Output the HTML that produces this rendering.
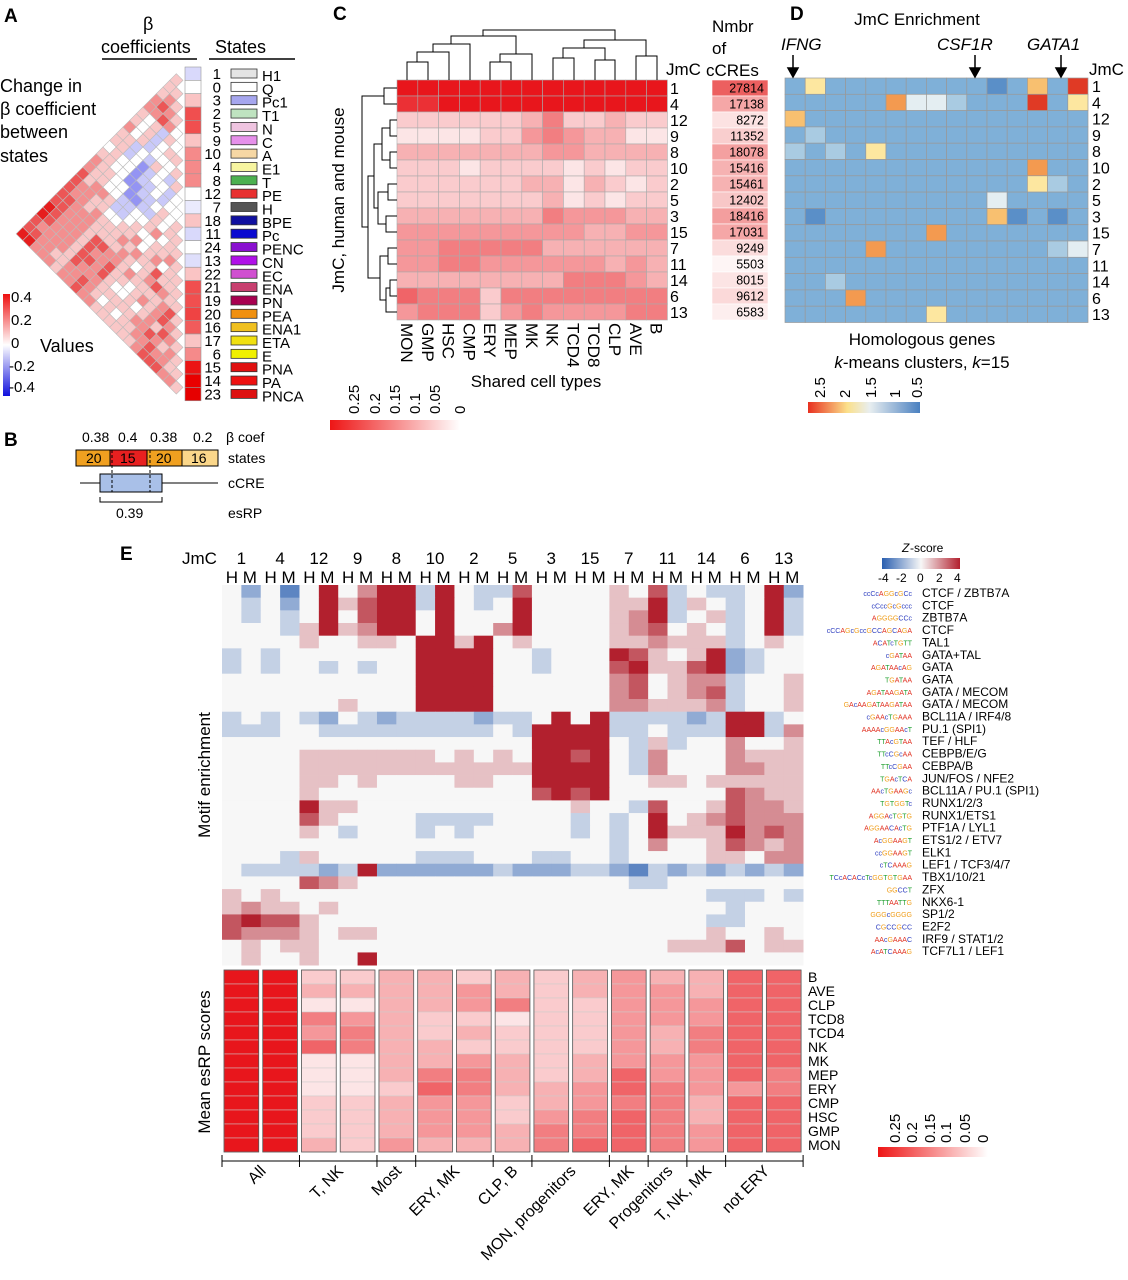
<!DOCTYPE html>
<html><head><meta charset="utf-8"><style>
html,body{margin:0;padding:0;background:#fff}
svg{display:block;font-family:"Liberation Sans",Arial,sans-serif}
</style></head><body>
<svg id="fig" width="1128" height="1280" viewBox="0 0 1128 1280" xmlns="http://www.w3.org/2000/svg">
<g font-weight="bold" font-size="19">
<text x="4" y="22">A</text><text x="4" y="446">B</text><text x="333" y="20">C</text><text x="790" y="20">D</text><text x="120" y="560">E</text>
</g>
<g font-size="18">
<text x="143" y="30">β</text>
<text x="101" y="53">coefficients</text>
<line x1="102" y1="59" x2="197" y2="59" stroke="#000" stroke-width="1.5"/>
<text x="215" y="53">States</text>
<line x1="209" y1="59" x2="295" y2="59" stroke="#000" stroke-width="1.5"/>
<text x="0" y="92">Change in</text>
<text x="0" y="115">β coefficient</text>
<text x="0" y="138">between</text>
<text x="0" y="162">states</text>
<text x="40" y="352">Values</text>
</g>
<defs>
<linearGradient id="gA" x1="0" y1="0" x2="0" y2="1"><stop offset="0" stop-color="#ee1010"/><stop offset="0.5" stop-color="#fff"/><stop offset="1" stop-color="#1010dd"/></linearGradient>
<linearGradient id="gC" x1="0" y1="0" x2="1" y2="0"><stop offset="0" stop-color="#ee1515"/><stop offset="1" stop-color="#fff"/></linearGradient>
<linearGradient id="gD" x1="0" y1="0" x2="1" y2="0"><stop offset="0" stop-color="#e83020"/><stop offset="0.35" stop-color="#fbe08a"/><stop offset="0.55" stop-color="#e8eef0"/><stop offset="1" stop-color="#4a80c0"/></linearGradient>
<linearGradient id="gE" x1="0" y1="0" x2="1" y2="0"><stop offset="0" stop-color="#2a5fb0"/><stop offset="0.5" stop-color="#f7f7f7"/><stop offset="1" stop-color="#b2202e"/></linearGradient>
</defs>
<rect x="3" y="294" width="7" height="102" fill="url(#gA)"/>
<g font-size="15">
<text x="11" y="302">0.4</text><text x="11" y="325">0.2</text><text x="11" y="348">0</text><text x="9" y="371">-0.2</text><text x="9" y="392">-0.4</text>
</g>
<g id="panelA"></g>
<g id="statesList"></g>
<g font-size="14">
<text x="82" y="442">0.38</text><text x="118" y="442">0.4</text><text x="150" y="442">0.38</text><text x="193" y="442">0.2</text>
<text x="226" y="442">β coef</text>
<rect x="76" y="450" width="34" height="16" fill="#f0a020" stroke="#000"/><text x="86" y="463">20</text>
<rect x="110" y="450" width="37" height="16" fill="#e82020" stroke="#000"/><text x="120" y="463">15</text>
<rect x="147" y="450" width="35" height="16" fill="#f0a020" stroke="#000"/><text x="156" y="463">20</text>
<rect x="182" y="450" width="36" height="16" fill="#fbd78a" stroke="#000"/><text x="191" y="463">16</text>
<text x="228" y="463">states</text>
<line x1="80" y1="483" x2="218" y2="483" stroke="#000"/>
<rect x="100" y="474" width="62" height="18" fill="#a9c0e8" stroke="#000"/>
<line x1="112" y1="450" x2="112" y2="492" stroke="#000" stroke-dasharray="3,2"/>
<line x1="150" y1="450" x2="150" y2="492" stroke="#000" stroke-dasharray="3,2"/>
<text x="228" y="488">cCRE</text>
<path d="M100 497 V502 H162 V497" fill="none" stroke="#000"/>
<text x="116" y="518">0.39</text><text x="228" y="518">esRP</text>
</g>
<g id="panelC"></g>
<g font-size="17">
<text x="666" y="75">JmC</text>
<text x="712" y="32">Nmbr</text><text x="712" y="54">of</text><text x="706" y="76">cCREs</text>
<text transform="translate(344,200) rotate(-90)" text-anchor="middle">JmC, human and mouse</text>
<text x="536" y="387" text-anchor="middle">Shared cell types</text>
</g>
<g fill="none" stroke="#000" stroke-width="1">
<path d="M407 80 V62 H428 V80 M417 62 V52 H449 V80 M433 52 V44 H470 V80 M490 80 V62 H511 V80 M500 62 V54 H532 V80 M451 44 V36 H516 V54 M553 80 V58 H574 V80 M595 80 V60 H615 V80 M563 58 V48 H605 V60 M636 80 V56 H657 V80 M584 48 V40 H646 V56 M483 36 V30 H615 V40"/>
<path d="M397 88 H384 V104 H397 M397 120 H390 V136 H397 M397 152 H390 V168 H397 M390 128 H382 V160 H390 M397 184 H388 V200 H397 M397 216 H386 V232 H397 M388 192 H378 V224 H386 M382 144 H374 V208 H378 M397 248 H388 V264 H397 M397 280 H390 V296 H397 M390 288 H386 V312 H397 M388 256 H380 V300 H386 M374 176 H368 V278 H380 M384 96 H362 V227 H368"/>
</g>
<rect x="330" y="420" width="130" height="10" fill="url(#gC)"/>
<g font-size="15">
<text transform="translate(359,414) rotate(-90)">0.25</text>
<text transform="translate(380,414) rotate(-90)">0.2</text>
<text transform="translate(400,414) rotate(-90)">0.15</text>
<text transform="translate(420,414) rotate(-90)">0.1</text>
<text transform="translate(440,414) rotate(-90)">0.05</text>
<text transform="translate(465,414) rotate(-90)">0</text>
</g>
<g id="panelD"></g>
<g font-size="17">
<text x="917" y="25" text-anchor="middle">JmC Enrichment</text>
<text x="781" y="50" font-style="italic">IFNG</text>
<text x="937" y="50" font-style="italic">CSF1R</text>
<text x="1027" y="50" font-style="italic">GATA1</text>
<text x="1089" y="75">JmC</text>
<text x="922" y="345" text-anchor="middle">Homologous genes</text>
<text x="922" y="368" text-anchor="middle"><tspan font-style="italic">k</tspan>-means clusters, <tspan font-style="italic">k</tspan>=15</text>
</g>
<g stroke="#000" stroke-width="1.5" fill="#000">
<line x1="793" y1="55" x2="793" y2="72"/><path d="M788 68 L793 77 L798 68Z"/>
<line x1="975" y1="55" x2="975" y2="72"/><path d="M970 68 L975 77 L980 68Z"/>
<line x1="1061" y1="55" x2="1061" y2="72"/><path d="M1056 68 L1061 77 L1066 68Z"/>
</g>
<rect x="808" y="402" width="112" height="11" fill="url(#gD)"/>
<g font-size="15">
<text transform="translate(825,398) rotate(-90)">2.5</text>
<text transform="translate(850,398) rotate(-90)">2</text>
<text transform="translate(876,398) rotate(-90)">1.5</text>
<text transform="translate(900,398) rotate(-90)">1</text>
<text transform="translate(922,398) rotate(-90)">0.5</text>
</g>
<g font-size="17">
<text x="182" y="564">JmC</text>
<text transform="translate(210,775) rotate(-90)" text-anchor="middle">Motif enrichment</text>
<text transform="translate(210,1062) rotate(-90)" text-anchor="middle">Mean esRP scores</text>
<text x="902" y="552" font-size="12" font-style="italic">Z</text><text x="910" y="552" font-size="12">-score</text>
</g>
<rect x="882" y="558" width="78" height="11" fill="url(#gE)"/>
<g font-size="12">
<text x="878" y="582">-4</text><text x="896" y="582">-2</text><text x="917" y="582">0</text><text x="936" y="582">2</text><text x="954" y="582">4</text>
</g>
<g id="panelE"></g>
<g id="panelE2"></g>
<g id="motifs"></g>
<rect x="878" y="1147" width="110" height="10" fill="url(#gC)"/>
<g font-size="15">
<text transform="translate(900,1143) rotate(-90)">0.25</text>
<text transform="translate(917,1143) rotate(-90)">0.2</text>
<text transform="translate(935,1143) rotate(-90)">0.15</text>
<text transform="translate(951,1143) rotate(-90)">0.1</text>
<text transform="translate(970,1143) rotate(-90)">0.05</text>
<text transform="translate(988,1143) rotate(-90)">0</text>
</g>
<g id="groupLabels"></g>
</svg>
<script>
const aStates=["1","0","3","2","5","9","10","4","8","12","7","18","11","24","13","22","21","19","20","16","17","6","15","14","23"];
const aNames=["H1","Q","Pc1","T1","N","C","A","E1","T","PE","H","BPE","Pc","PENC","CN","EC","ENA","PN","PEA","ENA1","ETA","E","PNA","PA","PNCA"];
const aSwatch=["#e4e4e4","#ffffff","#a6a6ee","#bfe3c0","#efc4e0","#e690ea","#f6d7a4","#f7f5a0","#4cb050","#e83030","#555555","#1010a0","#0a0ad0","#8a10d0","#b010e8","#d050d0","#c84070","#a80050","#f09010","#f0c020","#f0e010","#f0f000","#e01010","#ee1010","#dd1010"];
const aBeta=[3.3,4,5,7,7,5,6,6,6,4,3.6,5,3.3,4,3.4,5,7,7,7.2,6.8,5,6,8,8.5,9];
const aTri=["5","55","565","6765","66764","545354","5453455","64534445","553435435","5534234434","45442334344","554422334545","6554422335455","65544334456455","756653345445565","7665544556456455","76656555656557555","776665555654567655","7766657766565555675","87666576675545656765","876665776754454565765","7666657666555556676565","77665566765454556676655","886665667665555556777665"];

const cCols=["MON","GMP","HSC","CMP","ERY","MEP","MK","NK","TCD4","TCD8","CLP","AVE","B"];
const cRows=["1","4","12","9","8","10","2","5","3","15","7","11","14","6","13"];
const cVals=["9999999999999","8899999999999","2222223522322","1111224543311","3333333443333","2221222212122","2222223313212","2222222312122","3333333544433","4444444443344","4455555333333","4455444444343","3333333355543","6555255555555","4555245444455"];
const cCount=[27814,17138,8272,11352,18078,15416,15461,12402,18416,17031,9249,5503,8015,9612,6583];

const dRows=["1","4","12","9","8","10","2","5","3","15","7","11","14","6","13"];
const dVals=["363333333323739","333338554333936","733333333333333","343333333333333","434363333333333","333333333333833","333333333333643","333333333353333","323333333372323","333333383333333","333383333333345","333333333333333","334333333333333","333833333333333","333333363333333"];

const eGroups=["1","4","12","9","8","10","2","5","3","15","7","11","14","6","13"];
const eMotifs=["CTCF / ZBTB7A","CTCF","ZBTB7A","CTCF","TAL1","GATA+TAL","GATA","GATA","GATA / MECOM","GATA / MECOM","BCL11A / IRF4/8","PU.1 (SPI1)","TEF / HLF","CEBPB/E/G","CEBPA/B","JUN/FOS / NFE2","BCL11A / PU.1 (SPI1)","RUNX1/2/3","RUNX1/ETS1","PTF1A / LYL1","ETS1/2 / ETV7","ELK1","LEF1 / TCF3/4/7","TBX1/10/21","ZFX","NKX6-1","SP1/2","E2F2","IRF9 / STAT1/2","TCF7L1 / LEF1"];
const eLogos=["ccCcAGGcGCc","cCccGcGccc","AGGGGCCc","cCCAGcGccGCCAGCAGA","ACATcTGTT","cGATAA","AGATAAcAG","TGATAA","AGATAAGATA","GAcAAGATAAGATAA","cGAAcTGAAA","AAAAcGGAAcT","TTAcGTAA","TTcCGcAA","TTcCGAA","TGAcTCA","AAcTGAAGc","TGTGGTc","AGGAcTGTG","AGGAACAcTG","AcGGAAGT","ccGGAAGT","cTCAAAG","TCcACACcTcGGTGTGAA","GGCCT","TTTAATTG","GGGcGGGG","CGCCGCC","AAcGAAAC","AcATCAAAG"];
const eVals=["424148468838433744445473433482","434248578838434844445583543483","434348478848444844445683453483","444358568848446844445674543483","444454455488584544445565553454","343444444488884434448754582344","343443434488884434447855782344","444444444488884444446745663445","444444444488884444446745673445","444444544488884444446655563445","343432432333323348483333238834","333443333333334388883343338836","444444444444444488884353446445","444455555554545488784364446555","444455555555555588884364446655","444455454444554488884455455555","444454444444444478784444447655","444485544444444444544374457665","444475444433334444343484567666","444454344434344444343485558676","444444444444444444443464457656","444354444433344433443444455466","433332382222223222332132323232","444476544444444444444334444444","545444444444444444444444433343","565545444444444444444444443444","787754444444444444444444433444","766654554444444444444444454454","454554444444444444444445557455","454454484444444444444444444444"];

const esCells=["B","AVE","CLP","TCD8","TCD4","NK","MK","MEP","ERY","CMP","HSC","GMP","MON"];
const esVals=["9999999999999","9999999999999","2315461112223","2314551112222","3333333323334","3332233564443","2442324554443","3351223332233","2222222233455","3322223344556","4444444665666","3444334455555","3344554443344","6666666646666","6666666556666"];
const gLabels=["All","T, NK","Most","ERY, MK","CLP, B","MON, progenitors","ERY, MK","Progenitors","T, NK, MK","not ERY"];
const gSpans=[[0,1],[2,3],[4,4],[5,6],[7,7],[8,9],[10,10],[11,11],[12,12],[13,14]];

const NS="http://www.w3.org/2000/svg";
function mk(tag,parent,attrs){const e=document.createElementNS(NS,tag);for(const k in attrs)e.setAttribute(k,attrs[k]);parent.appendChild(e);return e;}
function mix(a,b,t){return "rgb("+a.map((v,i)=>Math.round(v+(b[i]-v)*t)).join(",")+")";}
function div(l,lo,mid,hi){const t=(l-4)/4;return t<0?mix(mid,lo,-t):mix(mid,hi,t);}
function redScale(v){return mix([255,255,255],[232,22,28],Math.max(0,Math.min(1,v)));}
const dColors={"2":"#5a8fc8","3":"#7fb0d8","4":"#a9cbe2","5":"#e4eef2","6":"#fde7a0","7":"#f8c070","8":"#f39a50","9":"#e03a25"};

const gA=document.getElementById("panelA");
const AX=183,AY0=67,AS=13.35;
aTri.forEach((row,ii)=>{const i=ii+1;[...row].forEach((ch,j)=>{
 const cy=AY0+((i+j)/2+0.5)*AS,cx=AX-(i-j)*AS/2,h=AS/2;
 const p=mk("path",gA,{d:`M${cx-h} ${cy} L${cx} ${cy-h} L${cx+h} ${cy} L${cx} ${cy+h}Z`,fill:div(+ch,[40,40,230],[255,255,255],[230,30,30]),stroke:"#bbb","stroke-width":0.6});
 
 
});});
const sl=document.getElementById("statesList");
aStates.forEach((s,i)=>{
 const y=AY0+i*AS;
 const r=mk("rect",sl,{x:185,y:y,width:16,height:AS,fill:div(aBeta[i],[40,40,230],[255,255,255],[235,20,20]),stroke:"#999","stroke-width":0.6});
 
 
 const t=mk("text",sl,{x:221,y:y+12,"font-size":15,"text-anchor":"end"});t.textContent=s;
 
 
 const sw=mk("rect",sl,{x:231,y:y+2,width:26,height:9,fill:aSwatch[i],stroke:"#333","stroke-width":0.8});
 
 
 const n=mk("text",sl,{x:262,y:y+14,"font-size":15});n.textContent=aNames[i];
 
 
});

const gCp=document.getElementById("panelC");
const CX=397,CY=80,CW=20.8,CH=16;
cVals.forEach((row,r)=>{[...row].forEach((ch,c)=>{
 const e=mk("rect",gCp,{x:CX+c*CW,y:CY+r*CH,width:CW,height:CH,fill:redScale(+ch/9),stroke:"#aaa","stroke-width":0.6});
 
 
});
 const t=mk("text",gCp,{x:670,y:CY+r*CH+14,"font-size":16});t.textContent=cRows[r];
 
 
 const n=mk("rect",gCp,{x:712,y:CY+r*CH,width:56,height:CH,fill:mix([255,255,255],[236,95,95],Math.max(0,(cCount[r]-4000)/23814)),stroke:"#fff","stroke-width":0.6});
 
 
 const nt=mk("text",gCp,{x:764,y:CY+r*CH+12.5,"font-size":12.5,"text-anchor":"end"});nt.textContent=cCount[r];
 
 
});
cCols.forEach((c,i)=>{
 const t=mk("text",gCp,{transform:`translate(${CX+i*CW+4},323) rotate(90)`,"font-size":17});t.textContent=c;
 
 
});

const gDp=document.getElementById("panelD");
const DX=785,DY=78,DW=20.2,DH=16.3;
dVals.forEach((row,r)=>{[...row].forEach((ch,c)=>{
 const e=mk("rect",gDp,{x:DX+c*DW,y:DY+r*DH,width:DW,height:DH,fill:dColors[ch],stroke:"#999","stroke-width":0.7});
 
 
});
 const t=mk("text",gDp,{x:1092,y:DY+r*DH+14,"font-size":16});t.textContent=dRows[r];
 
 
});

const gE=document.getElementById("panelE");
const EX=222,EY=585,EW=19.37,EH=12.67,GW=EW*2;
eVals.forEach((row,r)=>{[...row].forEach((ch,c)=>{
 const e=mk("rect",gE,{x:EX+c*EW,y:EY+r*EH,width:EW+0.4,height:EH+0.4,fill:div(+ch,[42,95,176],[247,247,247],[178,32,46])});
 
 
});});
eGroups.forEach((g,i)=>{
 const gx=EX+i*GW;
 const t=mk("text",gE,{x:gx+GW/2,y:564,"font-size":17,"text-anchor":"middle"});t.textContent=g;
 
 
 const h=mk("text",gE,{x:gx+GW/2,y:583,"font-size":17,"text-anchor":"middle"});h.textContent="H M";
 
 
});
const mg=document.getElementById("motifs");
const logoCols={A:"#e03020",C:"#3040c0",G:"#f0a020",T:"#20a030",a:"#e03020",c:"#3040c0",g:"#f0a020",t:"#20a030"};
eMotifs.forEach((m,i)=>{
 const y=EY+8+i*12.35;
 const t=mk("text",mg,{x:922,y:y+4,"font-size":12});t.textContent=m;
 
 
 const lt=mk("text",mg,{x:912,y:y+3,"font-size":7,"text-anchor":"end"});
 
 
 [...eLogos[i]].forEach(ch=>{const s=mk("tspan",lt,{fill:logoCols[ch]||"#888"});s.textContent=ch;});
});
const gE2=document.getElementById("panelE2");
const ESY=970,ESH=14;
esVals.forEach((col,g)=>{
 const gx=EX+g*GW+2;
 [...col].forEach((ch,r)=>{
  const e=mk("rect",gE2,{x:gx,y:ESY+r*ESH,width:GW-4,height:ESH,fill:redScale(+ch/9),stroke:"#ccc","stroke-width":0.5});
  
  
 });
 const b=mk("rect",gE2,{x:gx,y:ESY,width:GW-4,height:ESH*13,fill:"none",stroke:"#555","stroke-width":0.8});
 
 
});
esCells.forEach((c,r)=>{
 const t=mk("text",gE2,{x:808,y:ESY+r*ESH+12,"font-size":14});t.textContent=c;
 
 
});
const gl=document.getElementById("groupLabels");
mk("line",gl,{x1:EX,y1:1161,x2:EX+15*GW,y2:1161,stroke:"#000","stroke-width":1});
gSpans.forEach((sp,i)=>{
 const x0=EX+sp[0]*GW,x1=EX+(sp[1]+1)*GW,cx=(x0+x1)/2;
 mk("line",gl,{x1:x0,y1:1155,x2:x0,y2:1167,stroke:"#000"});
 if(i===gSpans.length-1)mk("line",gl,{x1:x1,y1:1155,x2:x1,y2:1167,stroke:"#000"});
 const t=mk("text",gl,{transform:`translate(${cx+6},1172) rotate(-45)`,"font-size":16,"text-anchor":"end"});t.textContent=gLabels[i];
 
 
});
</script>
</body></html>
